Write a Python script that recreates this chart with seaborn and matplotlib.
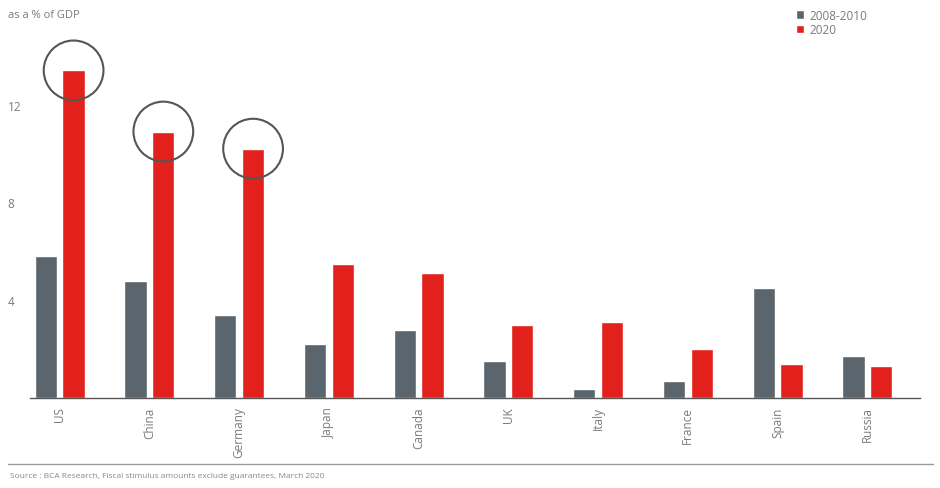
import matplotlib
matplotlib.use("Agg")
import matplotlib.pyplot as plt
import seaborn as sns
import pandas as pd

countries = ["US", "China", "Germany", "Japan", "Canada", "UK", "Italy", "France", "Spain", "Russia"]
gfc_2008_2010 = [5.8, 4.8, 3.4, 2.2, 2.8, 1.5, 0.35, 0.7, 4.5, 1.7]
covid_2020 = [13.4, 10.9, 10.2, 5.5, 5.1, 3.0, 3.1, 2.0, 1.4, 1.3]
series_names = ["2008-2010", "2020"]
highlighted = ["US", "China", "Germany"]
y_ticks = [4, 8, 12]

df = pd.DataFrame({
    "country": countries * 2,
    "value": gfc_2008_2010 + covid_2020,
    "period": [series_names[0]] * len(countries) + [series_names[1]] * len(countries),
})

sns.set_theme(style="white")
plt.rcParams["font.family"] = ["Open Sans", "DejaVu Sans"]

GRAY = "#5b656d"
RED = "#e2211c"
TXT = "#7a7a7a"

fig = plt.figure(figsize=(9.4, 4.89), dpi=100)
ax = fig.add_axes([0.032, 0.184, 0.947, 0.75])

sns.barplot(data=df, x="country", y="value", hue="period", order=countries,
            hue_order=series_names, palette=[GRAY, RED], width=0.62, gap=0.2,
            saturation=1, ax=ax, legend=True)

ax.set_xlim(-0.33, 9.59)
ax.set_ylim(0, 15)
ax.set_yticks(y_ticks)
ax.set_xlabel("")
ax.set_ylabel("")
for s in ["top", "right", "left"]:
    ax.spines[s].set_visible(False)
ax.spines["bottom"].set_color("#555555")
ax.spines["bottom"].set_linewidth(1.0)
ax.tick_params(axis="x", length=0, pad=6, labelsize=8.5, labelcolor=TXT, labelrotation=90)
ax.tick_params(axis="y", length=0, pad=16, labelsize=8.5, labelcolor=TXT)
for lab in ax.get_yticklabels():
    lab.set_horizontalalignment("left")

# circles around highlighted 2020 bars
red_bars = ax.containers[1]
for name, bar in zip(countries, red_bars):
    if name in highlighted:
        cx = bar.get_x() + bar.get_width() / 2
        cy = bar.get_height()
        ax.scatter([cx], [cy], s=1850, facecolors="none", edgecolors="#555555",
                   linewidths=1.5, zorder=5, clip_on=False)

leg = ax.legend(loc="upper left", bbox_to_anchor=(0.842, 0.99), bbox_transform=fig.transFigure,
                frameon=False, fontsize=8.5, handlelength=0.7, handleheight=0.7,
                handletextpad=0.4, labelspacing=0.15, borderaxespad=0)
for t in leg.get_texts():
    t.set_color(TXT)

fig.text(0.009, 0.968, "as a % of GDP", fontsize=8, color=TXT, ha="left", va="center")
fig.add_artist(plt.Line2D([0.009, 0.993], [0.049, 0.049], color="#9a9a9a", lw=1.0))
fig.text(0.011, 0.026, "Source : BCA Research, Fiscal stimulus amounts exclude guarantees, March 2020",
         fontsize=6, color="#888888", ha="left", va="center")

fig.savefig("out.png", dpi=100)
